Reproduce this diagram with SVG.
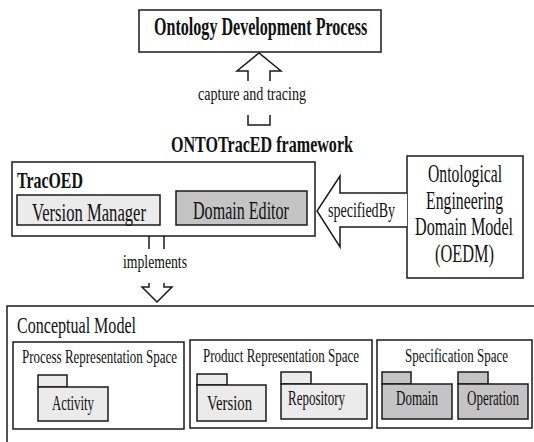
<svg xmlns="http://www.w3.org/2000/svg" width="534" height="442" viewBox="0 0 534 442">
<defs>
<style>
.box{fill:#ffffff;stroke:#1a1a1a;stroke-width:1.5}
.light{fill:#ebebeb;stroke:#1a1a1a;stroke-width:1.5}
.dark{fill:#c4c4c4;stroke:#1a1a1a;stroke-width:1.5}
.conn{fill:none;stroke:#1a1a1a;stroke-width:1.5;stroke-linejoin:miter}
.connw{fill:#ffffff;stroke:#1a1a1a;stroke-width:1.5}
</style>
</defs>
<rect width="534" height="442" fill="#ffffff"/>

<g id="ontology-development-process">
<rect class="box" x="139" y="10" width="242" height="42"/>
<text font-family="Liberation Serif" font-weight="bold" fill="#111" transform="translate(154,35) scale(0.642,1)" font-size="25" textLength="332" lengthAdjust="spacingAndGlyphs">Ontology Development Process</text>
</g>

<g id="framework-title">
<text font-family="Liberation Serif" font-weight="bold" fill="#111" transform="translate(171,152) scale(0.693,1)" font-size="23" textLength="262.6" lengthAdjust="spacingAndGlyphs">ONTOTracED framework</text>
</g>

<g id="tracoed">
<rect class="box" x="12" y="162" width="303" height="74"/>
<text font-family="Liberation Serif" font-weight="bold" fill="#111" transform="translate(17,188) scale(0.68,1)" font-size="23" textLength="97" lengthAdjust="spacingAndGlyphs">TracOED</text>
</g>

<g id="version-manager">
<rect class="light" x="17" y="195" width="143" height="30"/>
<text font-family="Liberation Serif" fill="#111" transform="translate(32,221) scale(0.629,1)" font-size="26" textLength="181.2" lengthAdjust="spacingAndGlyphs">Version Manager</text>
</g>

<g id="domain-editor">
<rect class="dark" x="176" y="191" width="131" height="34"/>
<text font-family="Liberation Serif" fill="#111" transform="translate(193,219) scale(0.618,1)" font-size="26" textLength="155.3" lengthAdjust="spacingAndGlyphs">Domain Editor</text>
</g>

<g id="oedm">
<rect class="box" x="407" y="156" width="116" height="122"/>
<text font-family="Liberation Serif" fill="#111" transform="translate(428,182) scale(0.603,1)" font-size="26" textLength="122.8" lengthAdjust="spacingAndGlyphs">Ontological</text>
<text font-family="Liberation Serif" fill="#111" transform="translate(426,209) scale(0.606,1)" font-size="26" textLength="127.1" lengthAdjust="spacingAndGlyphs">Engineering</text>
<text font-family="Liberation Serif" fill="#111" transform="translate(415,235) scale(0.62,1)" font-size="26" textLength="158.1" lengthAdjust="spacingAndGlyphs">Domain Model</text>
<text font-family="Liberation Serif" fill="#111" transform="translate(435,262) scale(0.629,1)" font-size="26" textLength="93.8" lengthAdjust="spacingAndGlyphs">(OEDM)</text>
</g>

<g id="conceptual-model">
<rect class="box" x="7" y="306" width="545" height="150"/>
<text font-family="Liberation Serif" fill="#111" transform="translate(17,333) scale(0.698,1)" font-size="23" textLength="170.5" lengthAdjust="spacingAndGlyphs">Conceptual Model</text>
</g>

<g id="process-representation-space">
<rect class="box" x="13" y="342" width="171" height="87"/>
<text font-family="Liberation Serif" fill="#111" transform="translate(22,363) scale(0.683,1)" font-size="19" textLength="226.9" lengthAdjust="spacingAndGlyphs">Process Representation Space</text>
</g>

<g id="activity">
<rect class="light" x="38" y="375" width="29" height="12"/>
<rect class="light" x="38" y="387" width="70" height="34"/>
<text font-family="Liberation Serif" fill="#111" transform="translate(52,410) scale(0.64,1)" font-size="20" textLength="65.6" lengthAdjust="spacingAndGlyphs">Activity</text>
</g>

<g id="product-representation-space">
<rect class="box" x="190" y="340" width="182" height="88"/>
<text font-family="Liberation Serif" fill="#111" transform="translate(203,362) scale(0.684,1)" font-size="19" textLength="228" lengthAdjust="spacingAndGlyphs">Product Representation Space</text>
</g>

<g id="version">
<rect class="light" x="197" y="374" width="30" height="11"/>
<rect class="light" x="197" y="385" width="69" height="36"/>
<text font-family="Liberation Serif" fill="#111" transform="translate(207,410) scale(0.711,1)" font-size="20" textLength="63.3" lengthAdjust="spacingAndGlyphs">Version</text>
</g>

<g id="repository">
<rect class="light" x="281" y="372" width="30" height="12"/>
<rect class="light" x="281" y="384" width="86" height="35"/>
<text font-family="Liberation Serif" fill="#111" transform="translate(288,405) scale(0.649,1)" font-size="20" textLength="87.8" lengthAdjust="spacingAndGlyphs">Repository</text>
</g>

<g id="specification-space">
<rect class="box" x="377" y="340" width="155" height="88"/>
<text font-family="Liberation Serif" fill="#111" transform="translate(405,362) scale(0.685,1)" font-size="19" textLength="150.4" lengthAdjust="spacingAndGlyphs">Specification Space</text>
</g>

<g id="domain">
<rect class="dark" x="382" y="372" width="29" height="12"/>
<rect class="dark" x="382" y="384" width="70" height="35"/>
<text font-family="Liberation Serif" fill="#111" transform="translate(396,405) scale(0.652,1)" font-size="20" textLength="64.4" lengthAdjust="spacingAndGlyphs">Domain</text>
</g>

<g id="operation">
<rect class="dark" x="458" y="372" width="30" height="12"/>
<rect class="dark" x="458" y="384" width="70" height="35"/>
<text font-family="Liberation Serif" fill="#111" transform="translate(467,405) scale(0.65,1)" font-size="20" textLength="80" lengthAdjust="spacingAndGlyphs">Operation</text>
</g>

<g id="connectors">
<path class="conn" d="M248,81 V71 H237 L259,53 L281,71 H270 V81"/>
<path class="conn" d="M248,115 V125 H270 V115"/>
<text font-family="Liberation Serif" fill="#111" transform="translate(198,100) scale(0.783,1)" font-size="18" textLength="138" lengthAdjust="spacingAndGlyphs">capture and tracing</text>

<path class="conn" d="M149,236 V249 M164,236 V249"/>
<path class="conn" d="M149,283 V287 H142 L157,302 L172,287 H164 V283"/>
<text font-family="Liberation Serif" fill="#111" transform="translate(123,268) scale(0.762,1)" font-size="18" textLength="84" lengthAdjust="spacingAndGlyphs">implements</text>

<path class="connw" d="M407,193 H340 V176 L317,211 L340,247 V227 H407"/>
<text font-family="Liberation Serif" fill="#111" transform="translate(328,217) scale(0.668,1)" font-size="21" textLength="100.3" lengthAdjust="spacingAndGlyphs">specifiedBy</text>
</g>
</svg>
